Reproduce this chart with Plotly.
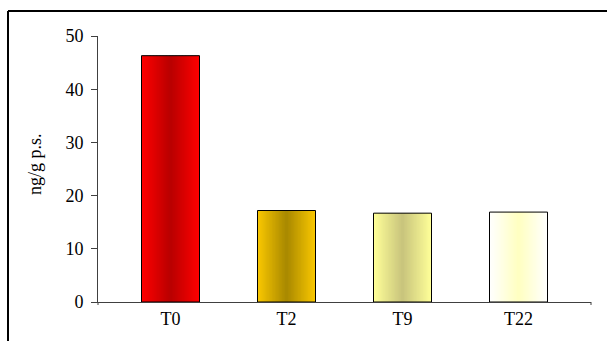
import plotly.graph_objects as go

# Concentrations per sampling time
categories = ["T0", "T2", "T9", "T22"]
values = [46.3, 17.2, 16.7, 16.9]
y_ticks = [0, 10, 20, 30, 40, 50]

# Horizontal gradient: colour at the bar edges and at the bar centre
edge_colors = [(255, 0, 0), (250, 200, 0), (255, 255, 153), (255, 255, 255)]
center_colors = [(184, 0, 0), (168, 136, 0), (200, 196, 124), (255, 255, 192)]

W, H = 607, 341
ML, MR, MT, MB = 98, 16, 36, 39
PW, PH = W - ML - MR, H - MT - MB

BAR_W = 0.5
N_SLICES = 40
AXIS_COLOR = "#404040"
FONT = "'Liberation Serif', 'Times New Roman', serif"


def px_x(px):
    return (px - ML) / PW


def px_y(py):
    return (H - MB - py) / PH


def mix(c0, c1, t):
    return "rgb({},{},{})".format(*[round(a + (b - a) * t) for a, b in zip(c0, c1)])


fig = go.Figure()

# Each bar is painted as thin vertical slices to build the gradient
step = BAR_W / N_SLICES
for i in range(N_SLICES):
    pos = (i + 0.5) / N_SLICES
    t = 1 - abs(pos - 0.5) * 2  # 0 at edges, 1 at centre
    off = -BAR_W / 2 + i * step
    wid = min(step * 1.6, BAR_W / 2 - off)
    fig.add_trace(go.Bar(
        x=categories, y=values,
        offset=off, width=wid,
        marker=dict(color=[mix(e, c, t) for e, c in zip(edge_colors, center_colors)],
                    line=dict(width=0)),
        hoverinfo="skip", showlegend=False,
    ))

# Outline of each bar
fig.add_trace(go.Bar(
    x=categories, y=values, width=BAR_W,
    marker=dict(color="rgba(0,0,0,0)", line=dict(color="black", width=1)),
    showlegend=False,
))

fig.update_layout(
    width=W, height=H,
    margin=dict(l=ML, r=MR, t=MT, b=MB),
    paper_bgcolor="white", plot_bgcolor="white",
    barmode="overlay",
    font=dict(family=FONT, color="black", size=18),
    xaxis=dict(
        type="category", range=[-0.625, 3.625],
        showline=True, linecolor=AXIS_COLOR, linewidth=1,
        showgrid=False, ticks="", tickfont=dict(family=FONT, size=18),
    ),
    yaxis=dict(
        range=[0, 50], tickvals=y_ticks,
        showline=True, linecolor=AXIS_COLOR, linewidth=1,
        ticks="outside", ticklen=6, tickcolor=AXIS_COLOR, tickwidth=1,
        showgrid=False, zeroline=False,
        tickfont=dict(family=FONT, size=18),
        ticklabelstandoff=4,
    ),
    annotations=[dict(
        text="ng/g p.s.", textangle=-90,
        xref="paper", yref="paper", x=px_x(35), y=px_y(164),
        xanchor="center", yanchor="middle", showarrow=False,
        font=dict(family=FONT, size=18, color="black"),
    )],
    shapes=[
        # chart frame
        dict(type="line", xref="paper", yref="paper",
             x0=px_x(8), x1=px_x(8), y0=px_y(11), y1=px_y(H + 5),
             line=dict(color="black", width=2)),
        dict(type="line", xref="paper", yref="paper",
             x0=px_x(8), x1=px_x(W + 5), y0=px_y(11), y1=px_y(11),
             line=dict(color="black", width=2)),
        # small end ticks below the category axis
        dict(type="line", xref="x domain", yref="paper",
             x0=0, x1=0, y0=0, y1=px_y(H - MB + 3),
             line=dict(color=AXIS_COLOR, width=1)),
        dict(type="line", xref="x domain", yref="paper",
             x0=1, x1=1, y0=0, y1=px_y(H - MB + 3),
             line=dict(color=AXIS_COLOR, width=1)),
    ],
)

fig.write_html("out.html")
